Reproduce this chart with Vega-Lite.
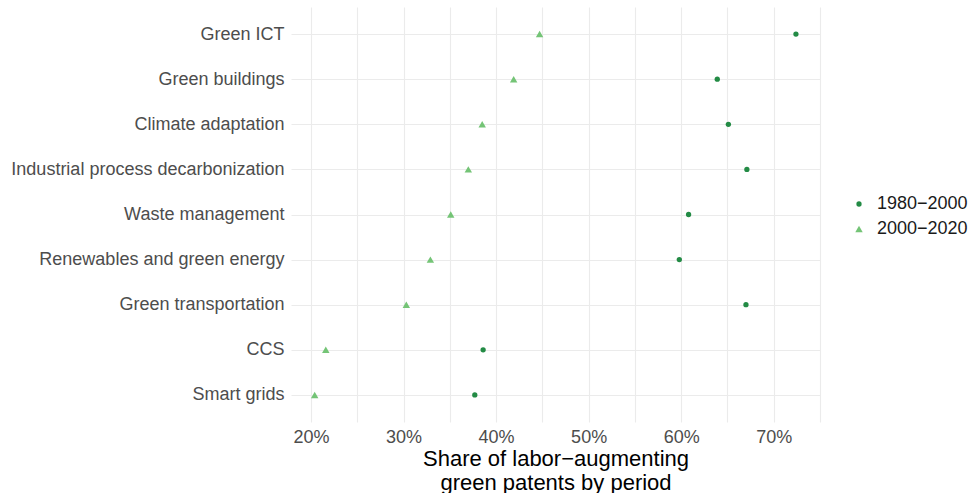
{
  "$schema": "https://vega.github.io/schema/vega-lite/v6.json",
  "width": 529,
  "height": 415,
  "padding": {"left": 10, "top": 7, "right": 0, "bottom": 0},
  "background": "white",
  "config": {
    "view": {"stroke": null},
    "font": "Liberation Sans",
    "axis": {"labelFont": "Liberation Sans", "titleFont": "Liberation Sans"},
    "legend": {"labelFont": "Liberation Sans"}
  },
  "data": {
    "values": [
      {"category": "Green ICT", "period": "1980−2000", "share": 72.4},
      {"category": "Green ICT", "period": "2000−2020", "share": 44.7},
      {"category": "Green buildings", "period": "1980−2000", "share": 63.9},
      {"category": "Green buildings", "period": "2000−2020", "share": 41.9},
      {"category": "Climate adaptation", "period": "1980−2000", "share": 65.1},
      {"category": "Climate adaptation", "period": "2000−2020", "share": 38.5},
      {"category": "Industrial process decarbonization", "period": "1980−2000", "share": 67.1},
      {"category": "Industrial process decarbonization", "period": "2000−2020", "share": 37.0},
      {"category": "Waste management", "period": "1980−2000", "share": 60.8},
      {"category": "Waste management", "period": "2000−2020", "share": 35.1},
      {"category": "Renewables and green energy", "period": "1980−2000", "share": 59.8},
      {"category": "Renewables and green energy", "period": "2000−2020", "share": 32.9},
      {"category": "Green transportation", "period": "1980−2000", "share": 67.0},
      {"category": "Green transportation", "period": "2000−2020", "share": 30.3},
      {"category": "CCS", "period": "1980−2000", "share": 38.6},
      {"category": "CCS", "period": "2000−2020", "share": 21.6},
      {"category": "Smart grids", "period": "1980−2000", "share": 37.7},
      {"category": "Smart grids", "period": "2000−2020", "share": 20.4}
    ]
  },
  "mark": {"type": "point", "filled": true, "opacity": 1},
  "encoding": {
    "x": {
      "field": "share",
      "type": "quantitative",
      "scale": {"domain": [17.84, 75.0], "nice": false, "zero": false},
      "axis": {
        "values": [20, 25, 30, 35, 40, 45, 50, 55, 60, 65, 70, 75],
        "labelExpr": "datum.value % 10 == 0 ? datum.value + '%' : ''",
        "title": ["Share of labor−augmenting", "green patents by period"],
        "titleFontSize": 22,
        "titleLineHeight": 24,
        "titleFontWeight": "normal",
        "titleColor": "#000000",
        "titlePadding": 2,
        "labelFontSize": 18,
        "labelColor": "#4d4d4d",
        "labelPadding": 6,
        "domain": false,
        "ticks": false,
        "grid": true,
        "gridColor": "#ebebeb",
        "gridWidth": 1.1
      }
    },
    "y": {
      "field": "category",
      "type": "nominal",
      "sort": ["Green ICT", "Green buildings", "Climate adaptation", "Industrial process decarbonization", "Waste management", "Renewables and green energy", "Green transportation", "CCS", "Smart grids"],
      "scale": {"type": "point", "padding": 0.6},
      "axis": {
        "title": null,
        "labelFontSize": 18,
        "labelLimit": 0,
        "labelColor": "#4d4d4d",
        "labelPadding": 7,
        "domain": false,
        "ticks": false,
        "grid": true,
        "gridColor": "#ebebeb",
        "gridWidth": 1.1
      }
    },
    "color": {
      "field": "period",
      "type": "nominal",
      "scale": {"domain": ["1980−2000", "2000−2020"], "range": ["#238b45", "#74c476"]},
      "legend": {
        "title": null,
        "labelFontSize": 18,
        "labelColor": "#1a1a1a",
        "labelOffset": 9,
        "rowPadding": 7,
        "orient": "none",
        "legendX": 559,
        "legendY": 188
      }
    },
    "shape": {
      "field": "period",
      "type": "nominal",
      "scale": {"domain": ["1980−2000", "2000−2020"], "range": ["circle", "triangle-up"]},
      "legend": null
    },
    "size": {
      "field": "period",
      "type": "nominal",
      "scale": {"domain": ["1980−2000", "2000−2020"], "range": [28, 55]},
      "legend": null
    }
  }
}
